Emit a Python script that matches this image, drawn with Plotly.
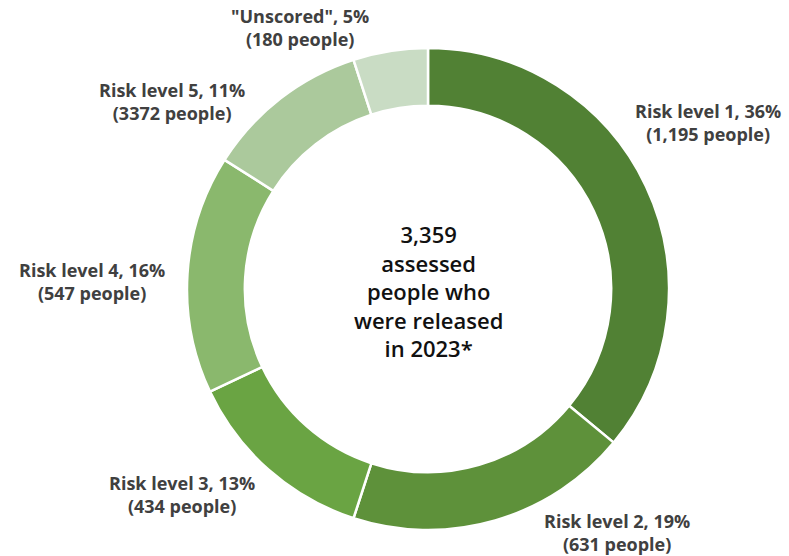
import plotly.graph_objects as go

# Risk levels of assessed people released in 2023
categories = ["Risk level 1", "Risk level 2", "Risk level 3", "Risk level 4", "Risk level 5", '"Unscored"']
percents = [36, 19, 13, 16, 11, 5]
people_labels = ["1,195", "631", "434", "547", "3372", "180"]
colors = ["#518134", "#5e913a", "#6aa443", "#8ab86d", "#abc99c", "#c9dcc4"]
center_text = "3,359<br>assessed<br>people who<br>were released<br>in 2023*"

# label anchor points (paper coordinates) for each slice's caption
label_pos = [(0.897, 0.779), (0.782, 0.043), (0.231, 0.110), (0.117, 0.493), (0.218, 0.817), (0.380, 0.950)]

fig = go.Figure(go.Pie(
    labels=categories,
    values=percents,
    hole=0.76,
    sort=False,
    direction="clockwise",
    rotation=0,
    marker=dict(colors=colors, line=dict(color="white", width=2.5)),
    textinfo="none",
    hoverinfo="label+percent",
    showlegend=False,
    domain=dict(x=[187 / 789, 669 / 789], y=[26 / 556, 508 / 556]),
))

annotations = []
for cat, pct, ppl, (x, y) in zip(categories, percents, people_labels, label_pos):
    annotations.append(dict(
        x=x, y=y, xref="paper", yref="paper",
        text=f"<b>{cat}, {pct}%<br>({ppl} people)</b>",
        showarrow=False, xanchor="center", yanchor="middle", align="center",
        font=dict(family="Open Sans", size=18, color="#404040"),
    ))

annotations.append(dict(
    x=428 / 789, y=1 - 291 / 556, xref="paper", yref="paper",
    text=center_text, showarrow=False, align="center",
    xanchor="center", yanchor="middle",
    font=dict(family="Open Sans", size=22, color="#111111", weight=600),
))

fig.update_layout(
    width=789, height=556,
    margin=dict(l=0, r=0, t=0, b=0),
    paper_bgcolor="white", plot_bgcolor="white",
    annotations=annotations,
)

fig.write_html("out.html")
